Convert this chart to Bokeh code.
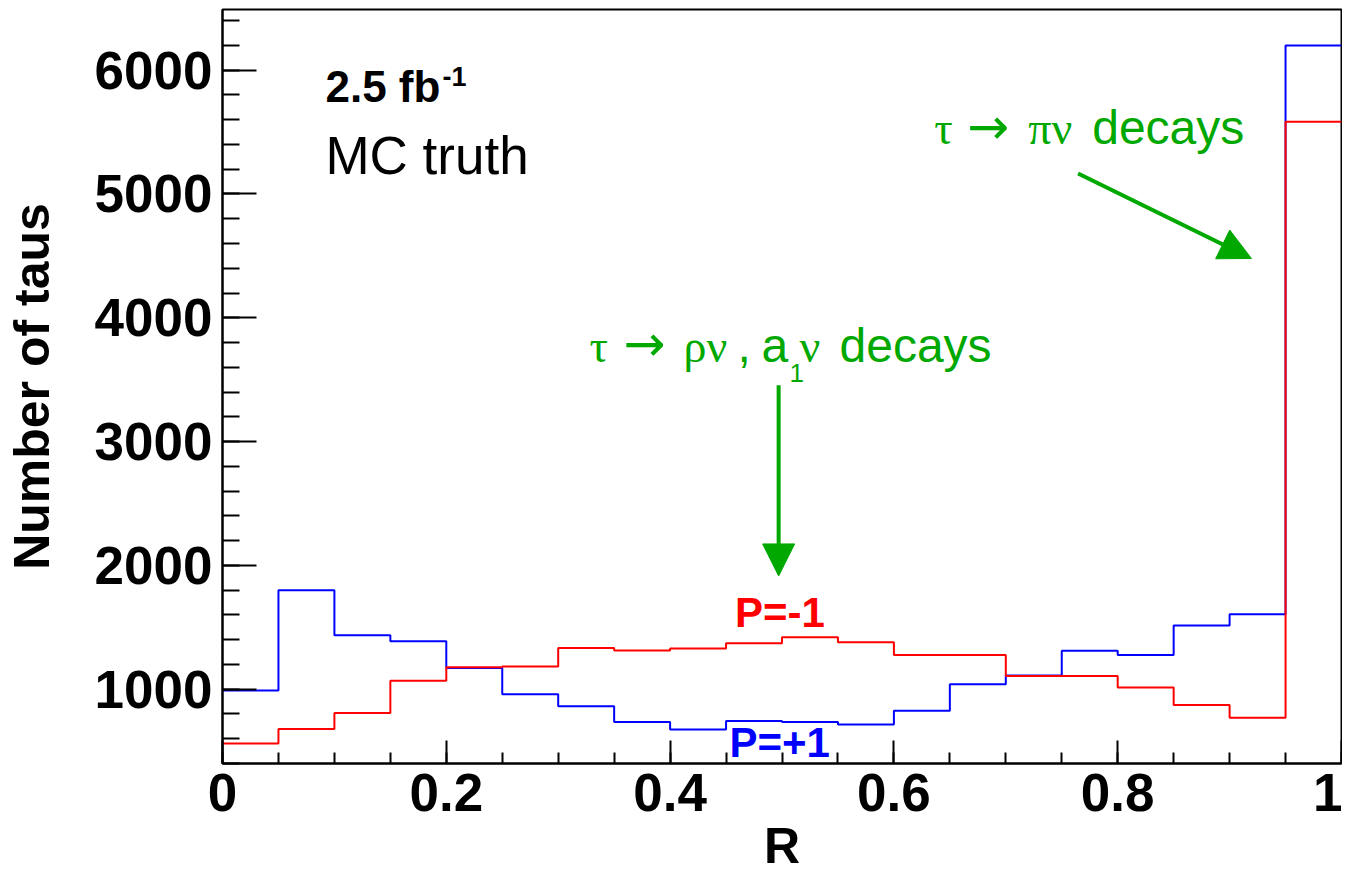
from bokeh.plotting import figure
from bokeh.models import SingleIntervalTicker, NumeralTickFormatter, Range1d, Arrow, NormalHead
from bokeh.core.properties import value
from bokeh.embed import file_html
from bokeh.resources import INLINE

# ---- data ----
bin_edges = [0.0, 0.05, 0.1, 0.15, 0.2, 0.25, 0.3, 0.35, 0.4, 0.45, 0.5,
             0.55, 0.6, 0.65, 0.7, 0.75, 0.8, 0.85, 0.9, 0.95, 1.0]
counts_plus = [990, 1800, 1436, 1388, 1172, 960, 862, 735, 675, 743,
               735, 715, 827, 1041, 1110, 1310, 1277, 1514, 1606, 6200]   # P=+1 (blue)
counts_minus = [562, 678, 807, 1068, 1178, 1183, 1332, 1312, 1328, 1372,
                1420, 1380, 1277, 1277, 1106, 1106, 1014, 872, 769, 5584]  # P=-1 (red)

label_plus = "P=+1"
label_minus = "P=-1"
y_title = "Number of taus"
x_title = "R"

GREEN = "#00a800"
SANS = "Liberation Sans"
SERIF = "Liberation Serif"
ARROWF = "DejaVu Sans"
K = 0.38  # baseline correction (fraction of font size)


def txt(x, y, s, font, size, color, bold=False, dx=0, dy=0):
    p.text(x=[x], y=[y], text=[s], text_font=value(font),
           text_font_style="bold" if bold else "normal",
           text_font_size=f"{size}px", text_color=color,
           text_baseline="alphabetic", text_align="left",
           x_offset=dx, y_offset=dy - round(K * size))


p = figure(width=1342, height=876, output_backend="svg", toolbar_location=None,
           x_range=Range1d(0, 1), y_range=Range1d(400, 6490),
           min_border_left=222, min_border_right=1, min_border_top=9, min_border_bottom=112)
p.xgrid.visible = False
p.ygrid.visible = False
p.outline_line_color = "black"
p.outline_line_width = 2
p.background_fill_color = "white"
p.border_fill_color = "white"

xa = p.xaxis[0]
xa.ticker = SingleIntervalTicker(interval=0.2, num_minor_ticks=4)
xa.formatter = NumeralTickFormatter(format="0.[0]")
xa.major_tick_in = 23
xa.major_tick_out = 0
xa.minor_tick_in = 11
xa.minor_tick_out = 0
xa.major_tick_line_width = 2
xa.minor_tick_line_width = 2
xa.axis_line_width = 2
xa.major_label_text_font = SANS
xa.major_label_text_font_size = "53px"
xa.major_label_text_font_style = "bold"
xa.major_label_text_color = "black"
xa.major_label_standoff = 10
xa.axis_label = x_title
xa.axis_label_text_font = SANS
xa.axis_label_text_font_size = "50px"
xa.axis_label_text_font_style = "bold"
xa.axis_label_text_color = "black"
xa.axis_label_standoff = 4

ya = p.yaxis[0]
ya.ticker = SingleIntervalTicker(interval=1000, num_minor_ticks=5)
ya.major_tick_in = 34
ya.major_tick_out = 0
ya.minor_tick_in = 17
ya.minor_tick_out = 0
ya.major_tick_line_width = 2
ya.minor_tick_line_width = 2
ya.axis_line_width = 2
ya.major_label_text_font = SANS
ya.major_label_text_font_size = "53px"
ya.major_label_text_font_style = "bold"
ya.major_label_text_color = "black"
ya.major_label_standoff = 10
ya.axis_label = y_title
ya.axis_label_text_font = SANS
ya.axis_label_text_font_size = "50px"
ya.axis_label_text_font_style = "bold"
ya.axis_label_text_color = "black"
ya.axis_label_standoff = 32

# histograms
p.step(x=bin_edges, y=counts_plus + [counts_plus[-1]], mode="after", line_color="#0000ff", line_width=2)
p.step(x=bin_edges, y=counts_minus + [counts_minus[-1]], mode="after", line_color="#ff0000", line_width=2)

# series labels
txt(0.458, 1487, label_minus, SANS, 42, "#ff0000", bold=True)
txt(0.453, 439, label_plus, SANS, 42, "#0000ff", bold=True)

# luminosity / MC truth
txt(0.092, 5729, "2.5 fb", SANS, 44, "black", bold=True)
txt(0.092, 5729, "-1", SANS, 27, "black", bold=True, dx=117, dy=-17)
txt(0.092, 5148, "MC truth", SANS, 53, "black")

# green annotation 1: tau -> pi nu decays
txt(0.636, 5390, "τ", SERIF, 46, GREEN)
txt(0.636, 5390, "→", ARROWF, 50, GREEN, dx=33)
txt(0.636, 5390, "πν", SERIF, 46, GREEN, dx=94)
txt(0.636, 5390, "decays", SANS, 48, GREEN, dx=158)

# green annotation 2: tau -> rho nu , a1 nu decays
txt(0.328, 3632, "τ", SERIF, 46, GREEN)
txt(0.328, 3632, "→", ARROWF, 50, GREEN, dx=34)
txt(0.328, 3632, "ρν", SERIF, 46, GREEN, dx=94)
txt(0.328, 3632, ",", SANS, 48, GREEN, dx=148)
txt(0.328, 3632, "a", SANS, 48, GREEN, dx=172)
txt(0.328, 3632, "1", SANS, 26, GREEN, dx=200, dy=20)
txt(0.328, 3632, "ν", SERIF, 46, GREEN, dx=210)
txt(0.328, 3632, "decays", SANS, 48, GREEN, dx=250)

# arrows
p.add_layout(Arrow(x_start=0.497, y_start=3455, x_end=0.497, y_end=1915,
                   line_color=GREEN, line_width=4,
                   end=NormalHead(size=32, fill_color=GREEN, line_color=GREEN, line_width=1)))
p.add_layout(Arrow(x_start=0.7646, y_start=5165, x_end=0.9195, y_end=4479,
                   line_color=GREEN, line_width=4,
                   end=NormalHead(size=32, fill_color=GREEN, line_color=GREEN, line_width=1)))

open("out.html", "w").write(file_html(p, INLINE))
